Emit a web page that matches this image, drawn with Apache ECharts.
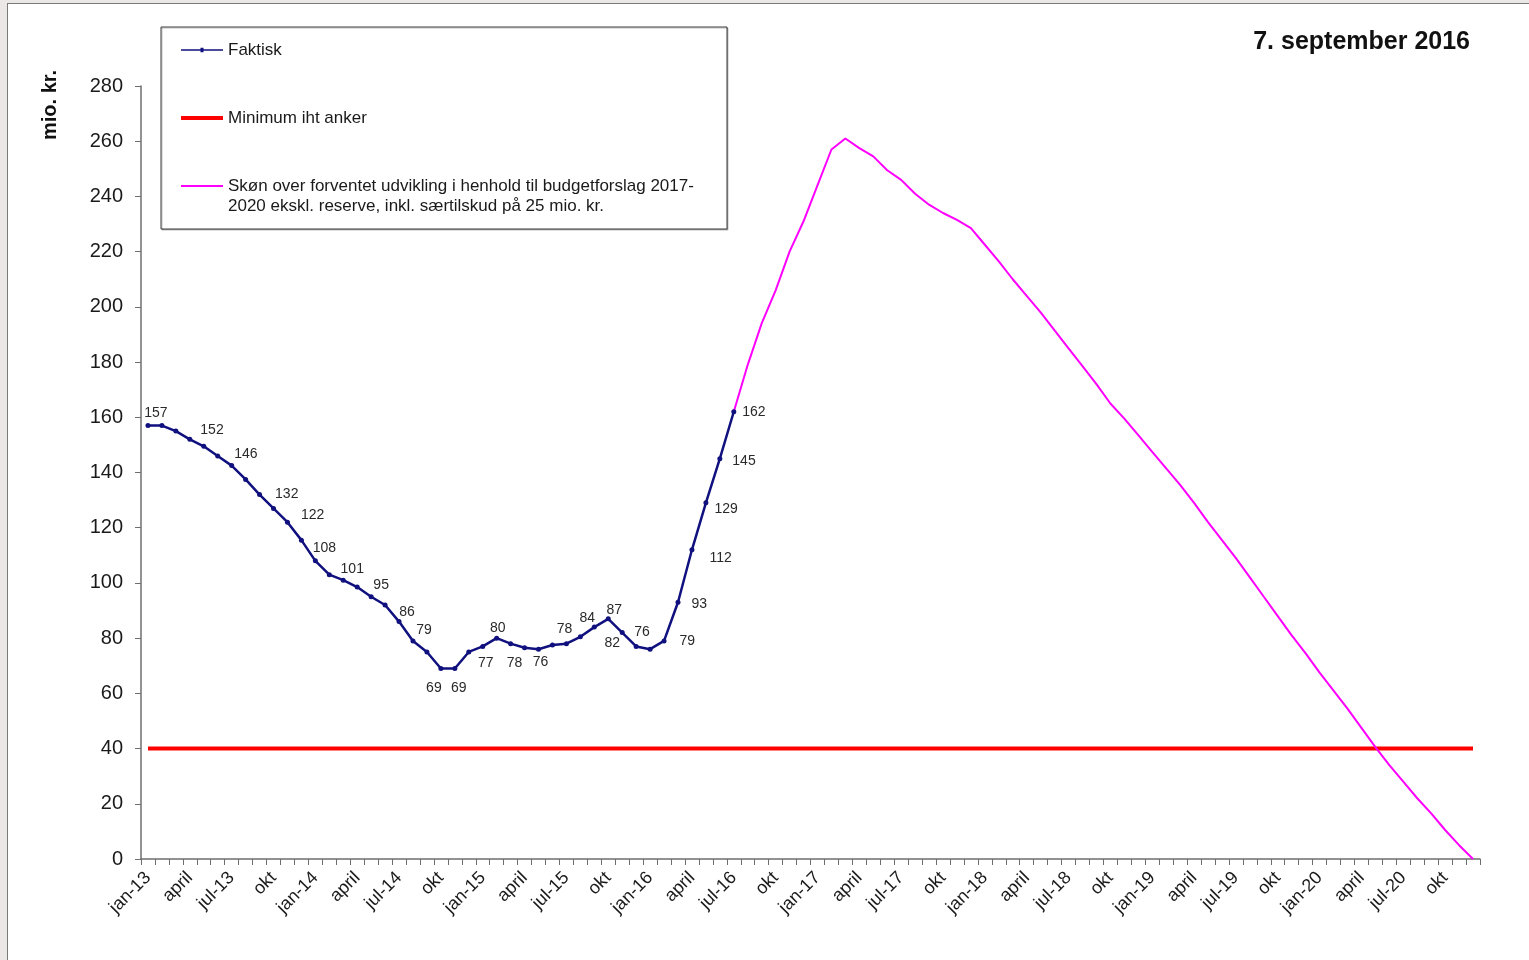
<!DOCTYPE html>
<html>
<head>
<meta charset="utf-8">
<script src="https://cdn.jsdelivr.net/npm/echarts@6/dist/echarts.min.js"></script>
<style>
  html, body { margin: 0; padding: 0; background: #ebe7e7; overflow: hidden; }
  #frame { position: absolute; left: 7px; top: 3px; width: 1522px; height: 957px; background: #fff;
           border-left: 1px solid #7a7a7a; border-top: 1px solid #7a7a7a; box-sizing: border-box; }
  #chart { position: absolute; left: 0; top: 0; width: 1529px; height: 960px; }
</style>
</head>
<body>
<div id="frame"></div>
<div id="chart"></div>
<script>
// Months jan-13 .. dec-20
const years = ['13', '14', '15', '16', '17', '18', '19', '20'];
const monthNames = ['jan', 'feb', 'mar', 'apr', 'maj', 'jun', 'jul', 'aug', 'sep', 'okt', 'nov', 'dec'];
const categories = [];
years.forEach(y => monthNames.forEach(m => categories.push(m + '-' + y)));

// Tick text shown every quarter
const quarterLabels = { jan: 'full', apr: 'april', jul: 'full', okt: 'okt' };

// Faktisk, jan-13 .. jul-16 (mio. kr.)
const faktisk = [
  157, 157, 155, 152, 149.5, 146, 142.5, 137.5, 132, 127,
  122, 115.5, 108, 103, 101, 98.5, 95, 92, 86, 79,
  75, 69, 69, 75, 77, 80, 78, 76.5, 76, 77.5,
  78, 80.5, 84, 87, 82, 77, 76, 79, 93, 112,
  129, 145, 162
];

// Skøn, jul-16 .. dec-20 (mio. kr.)
const skonStart = 42;
const skon = [
  162, 179, 194, 206, 220, 231, 244, 257, 261, 257.5,
  254.5, 249.5, 246, 241, 237, 234, 231.5, 228.5, 222.5, 216.5,
  210, 204, 198, 191.5, 185, 178.5, 172, 165, 159.5, 153.5,
  147.5, 141.5, 135.5, 129, 122, 115.5, 109, 102, 95, 88,
  81, 74.5, 67.5, 61, 54.5, 47.5, 40.5, 34, 28, 22,
  16.5, 10.5, 5, 0
];

// Minimum iht anker
const minimumAnker = 40;

// y axis ticks
const yMin = 0, yMax = 280, yStep = 20;

// Placement of value labels on the Faktisk line: index -> [position, dx, dy]
const labelPlacement = {
  0: ['top', 8, 2], 3: ['right', 3, -9], 5: ['right', 9, -2], 8: ['right', 8, 0],
  10: ['right', 6, -7], 12: ['top', 9, 2], 14: ['top', 9, 3], 16: ['top', 10, 3],
  18: ['top', 8, 5], 19: ['top', 11, 4], 21: ['bottom', -7, 5], 22: ['bottom', 4, 5],
  24: ['bottom', 3, 2], 25: ['top', 1, 4], 26: ['bottom', 4, 5], 28: ['bottom', 2, -2],
  30: ['top', -2, 0], 32: ['top', -7, 6], 33: ['top', 6, 6], 34: ['bottom', -10, -4],
  36: ['top', -8, -3], 37: ['right', 8, 0], 38: ['right', 6, 2], 39: ['right', 10, 8],
  40: ['right', 1, 6], 41: ['right', 5, 2], 42: ['right', 1, 0]
};

const FONT = 'Arial, "Liberation Sans", Helvetica, sans-serif';
const NAME_F = 'Faktisk';
const NAME_M = 'Minimum iht anker';
const NAME_S = 'Skøn over forventet udvikling i henhold til budgetforslag 2017-\n2020 ekskl. reserve, inkl. særtilskud på 25 mio. kr.';

const faktiskData = categories.map((c, i) => {
  if (i >= faktisk.length) return null;
  const p = labelPlacement[i];
  if (!p) return faktisk[i];
  return {
    value: faktisk[i],
    label: { show: true, position: p[0], offset: [p[1], p[2]] }
  };
});
const skonData = categories.map((c, i) => (i >= skonStart && i - skonStart < skon.length) ? skon[i - skonStart] : null);
const minData = categories.map(() => minimumAnker);

const chart = echarts.init(document.getElementById('chart'), null, { renderer: 'canvas' });

const legendText = { fontFamily: FONT, fontSize: 17, color: '#1a1a1a', lineHeight: 20 };
// legend icons: thin line with a small dot, thick red bar, thin pink line
const iconFaktisk = 'path://M0,2.2L42,2.2L42,3.8L0,3.8Z M19.5,0.8L22.5,0.8L22.5,5.2L19.5,5.2Z';

chart.setOption({
  backgroundColor: 'transparent',
  animation: false,
  textStyle: { fontFamily: FONT },
  title: {
    text: '7. september 2016',
    right: 54, top: 25,
    textStyle: { fontFamily: FONT, fontSize: 25, fontWeight: 'bold', color: '#111' }
  },
  grid: { left: 141, right: 49, top: 86, bottom: 101, containLabel: false },
  legend: [
    { data: [{ name: NAME_F, icon: iconFaktisk }], orient: 'vertical', left: 181, top: 40, padding: 0,
      itemWidth: 42, itemHeight: 6, selectedMode: false, textStyle: legendText },
    { data: [{ name: NAME_M, icon: 'rect' }], orient: 'vertical', left: 181, top: 108, padding: 0,
      itemWidth: 42, itemHeight: 4, selectedMode: false, textStyle: legendText },
    { data: [{ name: NAME_S, icon: 'rect' }], orient: 'vertical', left: 181, top: 156, padding: 0,
      itemWidth: 42, itemHeight: 2, selectedMode: false, textStyle: legendText,
      formatter: (name) => ' \n' + name }
  ],
  graphic: [
    { type: 'rect', z: -1, shape: { x: 161, y: 27, width: 566, height: 202 },
      style: { fill: '#fff', stroke: '#3a3a3a', lineWidth: 1, shadowColor: 'rgba(0,0,0,0.25)', shadowOffsetX: 1, shadowOffsetY: 1 } },
    { type: 'text', x: 50, y: 105, rotation: Math.PI / 2,
      style: { text: 'mio. kr.', fontFamily: FONT, fontSize: 20, fontWeight: 'bold', fill: '#111',
               align: 'center', verticalAlign: 'middle' } }
  ],
  xAxis: {
    type: 'category',
    data: categories,
    boundaryGap: true,
    axisLine: { lineStyle: { color: '#6e6e6e', width: 1.5 } },
    axisTick: { show: true, interval: 0, length: 6, lineStyle: { color: '#6e6e6e' } },
    axisLabel: {
      interval: 2,
      rotate: 45,
      margin: 16,
      fontFamily: FONT, fontSize: 18, color: '#1a1a1a',
      formatter: (v) => {
        const q = quarterLabels[v.slice(0, 3)];
        if (!q) return '';
        return q === 'full' ? v : q;
      }
    },
    splitLine: { show: false }
  },
  yAxis: {
    type: 'value',
    min: yMin, max: yMax, interval: yStep,
    axisLine: { show: true, lineStyle: { color: '#6e6e6e', width: 1.5 } },
    axisTick: { show: true, length: 6, lineStyle: { color: '#6e6e6e' } },
    axisLabel: { margin: 18, fontFamily: FONT, fontSize: 20, color: '#1a1a1a' },
    splitLine: { show: false }
  },
  series: [
    {
      name: NAME_M, type: 'line', data: minData, z: 2,
      symbol: 'none', lineStyle: { color: '#ff0000', width: 4 }, itemStyle: { color: '#ff0000' }
    },
    {
      name: NAME_S, type: 'line', data: skonData, z: 3,
      symbol: 'none', lineStyle: { color: '#ff00ff', width: 2 }, itemStyle: { color: '#ff00ff' }
    },
    {
      name: NAME_F, type: 'line', data: faktiskData, z: 4,
      symbol: 'circle', symbolSize: 5, showSymbol: true,
      lineStyle: { color: '#10107e', width: 2.5 }, itemStyle: { color: '#10107e' },
      label: { show: false, fontFamily: FONT, fontSize: 14, color: '#2a2a2a', distance: 5 }
    }
  ]
});
</script>
</body>
</html>
